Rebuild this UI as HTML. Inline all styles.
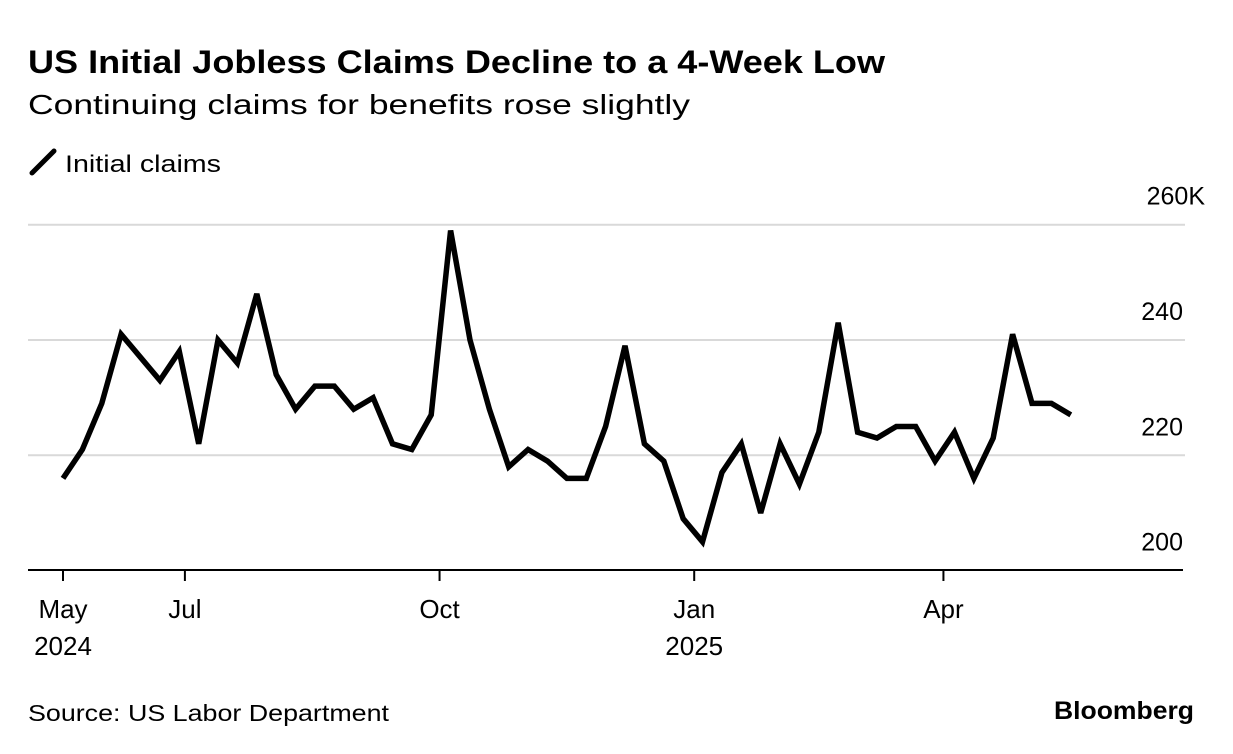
<!DOCTYPE html>
<html><head><meta charset="utf-8"><style>
body{margin:0;background:#fff;width:1233px;height:754px;overflow:hidden;font-family:"Liberation Sans",sans-serif;color:#000}
svg{position:absolute;left:0;top:0}
</style></head><body>
<svg width="1233" height="754">
<text x="28" y="73" font-size="32" font-weight="bold" textLength="857" lengthAdjust="spacingAndGlyphs">US Initial Jobless Claims Decline to a 4-Week Low</text>
<text x="28" y="114" font-size="28" textLength="662" lengthAdjust="spacingAndGlyphs">Continuing claims for benefits rose slightly</text>
<g>
<line x1="32" y1="173" x2="54" y2="151" stroke="#000" stroke-width="5" stroke-linecap="round"/>
<text x="65" y="172" font-size="24" textLength="156" lengthAdjust="spacingAndGlyphs">Initial claims</text>
</g>
<g id="grid"></g><g id="axes"></g><g id="plot"></g>
<text x="28" y="721" font-size="23" textLength="361" lengthAdjust="spacingAndGlyphs">Source: US Labor Department</text>
<text x="1194" y="719" font-size="25" font-weight="bold" text-anchor="end" textLength="140" lengthAdjust="spacingAndGlyphs">Bloomberg</text>
</svg>
<script>
const values=[216,221,229,241,237,233,238,222,240,236,248,234,228,232,232,228,230,222,221,227,259,240,228,218,221,219,216,216,225,239,222,219,209,205,217,222,210,222,215,224,243,224,223,225,225,219,224,216,223,241,229,229,227];
const yTicks=[200,220,240,260];
const yTickLabels=["200","220","240","260K"];
const xTickIdx=[0,6.29,19.43,32.57,45.43];
const xTickMonths=["May","Jul","Oct","Jan","Apr"];
const xTickYears=["2024","","","2025",""];
const NS="http://www.w3.org/2000/svg";
const x0=63,dx=19.38;
function xs(i){return x0+i*dx;}
function ys(v){return 570.6-(v-200)*5.765;}
function mk(tag,attrs,parent,txt){const e=document.createElementNS(NS,tag);for(const k in attrs)e.setAttribute(k,attrs[k]);if(txt!==undefined)e.textContent=txt;document.getElementById(parent).appendChild(e);return e;}
yTicks.forEach((t,i)=>{
 if(t>200){
  const g=mk('line',{x1:28,x2:1185,y1:ys(t),y2:ys(t),stroke:'#d9d9d9','stroke-width':2},'grid');
  
  
 }
 const l=mk('text',{x:1183,y:ys(t)-20,'font-size':25,'text-anchor':'end'},'grid',yTickLabels[i]);
 if(t===260)l.setAttribute('x',1205);
 
 
});
const ax=mk('line',{x1:28,x2:1183,y1:570,y2:570,stroke:'#000','stroke-width':2},'axes');


xTickIdx.forEach((idx,i)=>{
 const x=xs(idx);
 const tk=mk('line',{x1:x,x2:x,y1:570,y2:581,stroke:'#000','stroke-width':2},'axes');
 
 
 const m=mk('text',{x:x,y:618,'font-size':26,'text-anchor':'middle'},'axes',xTickMonths[i]);
 
 
 if(xTickYears[i]){
  const yv=mk('text',{x:x,y:655,'font-size':26,'text-anchor':'middle'},'axes',xTickYears[i]);
  
  
 }
});
const pts=values.map((v,i)=>xs(i).toFixed(1)+','+ys(v).toFixed(1)).join(' ');
const pl=mk('polyline',{points:pts,fill:'none',stroke:'#000','stroke-width':5.5,'stroke-linejoin':'miter','stroke-miterlimit':3},'plot');


</script>
</body></html>
